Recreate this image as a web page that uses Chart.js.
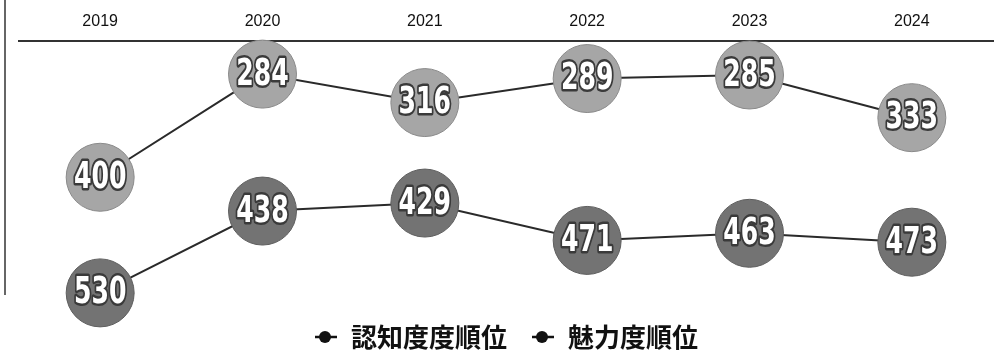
<!DOCTYPE html>
<html>
<head>
<meta charset="utf-8">
<script src="https://cdn.jsdelivr.net/npm/chart.js@4/dist/chart.umd.min.js"></script>
<style>
  html, body { margin: 0; padding: 0; background: #fff; }
  #wrap { width: 1000px; height: 360px; position: relative; }
  #edge { position: absolute; left: 4px; top: 0; width: 2px; height: 295px; background: #666; }
</style>
</head>
<body>
<div id="wrap"><canvas id="chart" width="1000" height="360"></canvas><div id="edge"></div></div>
<script>
const years = ["2019", "2020", "2021", "2022", "2023", "2024"];
const ninchiRank = [400, 284, 316, 289, 285, 333];   // 認知度度順位
const miryokuRank = [530, 438, 429, 471, 463, 473];  // 魅力度順位

/* legend marker: short line with a dot */
function makeMarker() {
  const c = document.createElement("canvas");
  c.width = 24; c.height = 16;
  const g = c.getContext("2d");
  g.strokeStyle = "#111"; g.lineWidth = 2.5;
  g.beginPath(); g.moveTo(1, 8); g.lineTo(23, 8); g.stroke();
  g.fillStyle = "#111";
  g.beginPath(); g.arc(11, 8, 6, 0, Math.PI * 2); g.fill();
  return c;
}
const marker = makeMarker();

/* numbers inside the circles */
const circleLabels = {
  id: "circleLabels",
  afterDatasetsDraw(chart) {
    const c = chart.ctx;
    chart.data.datasets.forEach((ds, i) => {
      chart.getDatasetMeta(i).data.forEach((pt, j) => {
        const txt = String(ds.data[j]);
        c.save();
        c.translate(pt.x, pt.y + 1);
        c.scale(0.68, 1);
        c.font = "bold 37px 'DejaVu Sans', sans-serif";
        c.textAlign = "center";
        c.textBaseline = "middle";
        c.lineJoin = "round";
        c.lineWidth = 5;
        c.strokeStyle = "#3a3a3a";
        c.strokeText(txt, 0, 0);
        c.fillStyle = "#ffffff";
        c.fillText(txt, 0, 0);
        c.restore();
      });
    });
  }
};

const ctx = document.getElementById("chart").getContext("2d");
new Chart(ctx, {
  type: "line",
  data: {
    labels: years,
    datasets: [{
      label: "認知度度順位",
      data: ninchiRank,
      borderColor: "#2a2a2a",
      borderWidth: 2,
      backgroundColor: "#a6a6a6",
      pointBackgroundColor: "#a6a6a6",
      pointBorderColor: "#8a8a8a",
      pointBorderWidth: 1,
      pointRadius: 34,
      pointHoverRadius: 34,
      clip: false,
      fill: false
    }, {
      label: "魅力度順位",
      data: miryokuRank,
      borderColor: "#2a2a2a",
      borderWidth: 2,
      backgroundColor: "#737373",
      pointBackgroundColor: "#737373",
      pointBorderColor: "#5e5e5e",
      pointBorderWidth: 1,
      pointRadius: 34,
      pointHoverRadius: 34,
      clip: false,
      fill: false
    }]
  },
  options: {
    responsive: false,
    animation: false,
    devicePixelRatio: 1,
    layout: { autoPadding: false, padding: { left: 19, right: 7, top: 2, bottom: 0 } },
    scales: {
      x: {
        position: "top",
        offset: true,
        grid: { display: false, drawTicks: false },
        border: { display: true, color: "#333", width: 2 },
        ticks: { color: "#111", maxRotation: 0, font: { size: 16, family: "'Liberation Sans', Arial, sans-serif" }, padding: 10 }
      },
      y: {
        display: false,
        reverse: true,
        min: 247,
        max: 538
      }
    },
    plugins: {
      legend: {
        position: "bottom",
        labels: {
          usePointStyle: true,
          pointStyleWidth: 24,
          color: "#111",
          font: { size: 26, weight: "bold", family: "'Noto Sans CJK JP', sans-serif" },
          padding: 24,
          generateLabels(chart) {
            return chart.data.datasets.map((ds, i) => ({
              text: ds.label,
              pointStyle: marker,
              fillStyle: "#111",
              strokeStyle: "#111",
              lineWidth: 0,
              fontColor: "#111",
              datasetIndex: i,
              hidden: false
            }));
          }
        }
      },
      tooltip: { enabled: false }
    }
  },
  plugins: [circleLabels]
});
</script>
</body>
</html>
